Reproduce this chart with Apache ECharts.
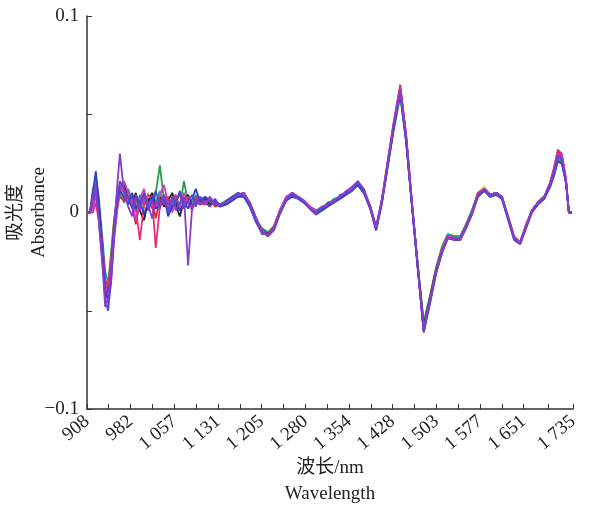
<!DOCTYPE html>
<html>
<head>
<meta charset="utf-8">
<script src="https://cdn.jsdelivr.net/npm/echarts@6/dist/echarts.min.js"></script>
<style>
  html, body { margin: 0; padding: 0; background: #fff; }
  #chart-content { width: 598px; height: 510px; }
</style>
</head>
<body>
<div id="chart-content"></div>
<script>
// wavelength grid (nm)
var wavelengths = [908, 913, 918, 923, 928, 934, 939, 944, 949, 954, 959, 964,
  971, 978, 985, 991, 998, 1005, 1012, 1019, 1025, 1032, 1039, 1046, 1053, 1059, 1066, 1073, 1080, 1087, 1093, 1100,
  1109, 1117, 1126,
  1134, 1145, 1155, 1165, 1175, 1185, 1196, 1206, 1216, 1226, 1236, 1247, 1257, 1267, 1277, 1287, 1298, 1308, 1318, 1328,
  1339, 1349, 1359, 1369, 1379, 1390, 1400, 1410, 1420, 1430, 1441, 1451, 1461, 1471, 1481, 1492, 1502, 1512, 1522, 1533,
  1543, 1553, 1563, 1573, 1584, 1594, 1604, 1614, 1624, 1635, 1645, 1655, 1665, 1675, 1686, 1696,
  1703, 1709, 1716, 1723, 1728, 1733];

var xTicks = [908, 982, 1057, 1131, 1205, 1280, 1354, 1428, 1503, 1577, 1651, 1735];

// absorbance spectra
var spec1 = [0, 0, .010, .021, .006, -.019, -.040, -.045, -.030, -.007, .006, .011,
  .008, .004, .010, .002, .006, -.001, .005, .008, .002, .004, .009, -.002, .003, .006, .001, .005, .002, .007, .012, .006,
  .008, .006, .005,
  .003, .004, .006, .008, .008, .003, -.005, -.010, -.012, -.009, -.001, .006, .008, .007, .005, .002, -.001, .001, .003, .005,
  .007, .009, .011, .014, .010, .002, -.009, .005, .024, .043, .061, .036, .003, -.029, -.060, -.045, -.031, -.020, -.013, -.014,
  -.014, -.008, -.001, .008, .011, .008, .009, .007, -.003, -.014, -.016, -.008, .000, .004, .007, .013,
  .019, .026, .025, .015, 0, 0];
var spec2 = [0, 0, .004, .008, .002, -.015, -.034, -.040, -.028, -.010, .004, .008,
  .006, .010, .003, -.006, .005, .009, .002, .006, -.003, .007, .004, .008, .001, .005, .010, .003, .006, .002, .008, .005,
  .004, .007, .003,
  .004, .005, .008, .009, .010, .005, -.003, -.010, -.011, -.007, .001, .008, .009, .008, .006, .003, .000, .002, .004, .006,
  .008, .010, .012, .015, .011, .003, -.009, .007, .027, .046, .065, .040, .005, -.028, -.061, -.045, -.030, -.019, -.012, -.013,
  -.013, -.007, .000, .009, .012, .009, .010, .008, -.002, -.013, -.015, -.007, .001, .005, .008, .015,
  .023, .031, .029, .017, 0, 0];
var spec3 = [0, 0, .012, .016, .000, -.022, -.043, -.038, -.020, -.004, .008, .010,
  .005, .012, .006, .001, .009, .004, .007, .002, .010, .024, .006, .001, .004, .008, .003, .016, .005, .003, .006, .004,
  .006, .005, .004,
  .004, .006, .008, .009, .009, .004, -.004, -.008, -.010, -.008, .000, .007, .009, .008, .006, .003, .001, .002, .005, .006,
  .008, .010, .012, .014, .010, .003, -.007, .006, .024, .042, .059, .036, .004, -.027, -.056, -.042, -.028, -.018, -.011, -.012,
  -.012, -.006, .001, .009, .012, .009, .010, .008, -.002, -.013, -.016, -.008, .001, .005, .008, .014,
  .020, .027, .026, .016, 0, 0];
var spec4 = [0, 0, .000, .005, -.004, -.024, -.038, -.036, -.024, -.006, .009, .014,
  .010, .004, .008, .002, -.014, .004, .009, .006, -.018, .003, .007, .002, .006, .009, .001, .004, .008, .002, .005, .007,
  .005, .003, .006,
  .003, .005, .007, .009, .009, .004, -.004, -.009, -.012, -.008, .000, .007, .010, .008, .006, .003, .000, .002, .004, .006,
  .008, .010, .013, .015, .011, .002, -.008, .006, .026, .045, .063, .038, .004, -.029, -.060, -.044, -.030, -.019, -.012, -.014,
  -.013, -.007, .000, .010, .012, .009, .010, .008, -.002, -.013, -.015, -.006, .001, .005, .008, .015,
  .023, .032, .030, .017, 0, 0];
var spec5 = [0, 0, .006, .011, .004, -.016, -.035, -.041, -.033, -.012, .002, .012,
  .014, .009, .004, .010, .001, -.004, .006, .010, .004, .008, .003, .006, .010, .004, -.002, .006, .009, .003, .006, .005,
  .007, .004, .006,
  .004, .005, .007, .009, .009, .004, -.004, -.009, -.011, -.008, .000, .007, .009, .008, .006, .003, .000, .002, .004, .006,
  .008, .010, .012, .015, .011, .003, -.008, .006, .025, .044, .064, .038, .004, -.028, -.058, -.043, -.029, -.019, -.012, -.013,
  -.013, -.007, .000, .009, .012, .009, .010, .008, -.002, -.013, -.015, -.007, .001, .005, .008, .014,
  .022, .030, .028, .016, 0, 0];
var spec6 = [0, 0, .009, .018, .008, -.012, -.030, -.036, -.026, -.008, .005, .009,
  .007, .011, .005, .009, .003, .007, .002, .008, .005, .011, .004, .008, .003, .006, .009, .002, .007, .004, .009, .006,
  .005, .008, .004,
  .004, .006, .007, .010, .009, .005, -.003, -.009, -.010, -.007, .001, .007, .009, .008, .006, .003, .001, .003, .004, .007,
  .008, .010, .012, .014, .011, .003, -.007, .006, .024, .043, .061, .037, .004, -.027, -.057, -.043, -.029, -.018, -.011, -.013,
  -.012, -.006, .001, .009, .012, .009, .010, .008, -.001, -.012, -.015, -.007, .001, .005, .008, .014,
  .020, .026, .025, .015, 0, 0];
var spec7 = [0, 0, .003, .007, -.002, -.020, -.032, -.034, -.022, -.004, .007, .009,
  .012, .006, .009, .004, .008, .002, .010, .005, .007, .003, .009, .005, .002, .007, .004, .008, .003, .006, .004, .007,
  .006, .004, .005,
  .004, .005, .007, .009, .009, .004, -.004, -.009, -.011, -.008, .000, .007, .009, .008, .006, .003, .000, .002, .004, .006,
  .008, .010, .012, .014, .010, .002, -.008, .006, .025, .044, .060, .037, .004, -.027, -.056, -.042, -.028, -.017, -.011, -.012,
  -.012, -.006, .001, .010, .013, .009, .010, .008, -.002, -.013, -.015, -.007, .001, .005, .008, .014,
  .021, .028, .027, .016, 0, 0];
var spec8 = [0, 0, .008, .014, -.004, -.026, -.048, -.044, -.030, -.010, .012, .030,
  .010, .003, -.002, .007, .001, .008, .004, -.003, .006, .002, .009, .004, .007, .001, .005, .008, -.027, .003, .007, .004,
  .005, .007, .004,
  .004, .005, .007, .009, .010, .005, -.003, -.010, -.012, -.008, .000, .007, .010, .008, .006, .002, .000, .003, .004, .006,
  .008, .011, .013, .016, .012, .003, -.008, .007, .026, .045, .062, .039, .005, -.028, -.059, -.044, -.030, -.020, -.013, -.013,
  -.014, -.007, .000, .009, .012, .009, .010, .008, -.002, -.013, -.016, -.007, .001, .005, .008, .015,
  .022, .029, .028, .016, 0, 0];
var spec9 = [0, 0, .006, .012, -.002, -.022, -.044, -.050, -.034, -.012, .004, .016,
  .012, .007, .002, .009, .004, .010, .001, .006, .011, .004, .007, .000, .008, .005, .011, .002, .006, .009, .003, .008,
  .006, .003, .007,
  .003, .006, .008, .010, .008, .003, -.005, -.011, -.011, -.009, .000, .006, .009, .007, .005, .002, -.001, .002, .005, .005,
  .009, .010, .011, .015, .011, .002, -.009, .005, .025, .044, .062, .037, .003, -.029, -.061, -.046, -.031, -.021, -.013, -.014,
  -.014, -.008, -.001, .008, .011, .008, .009, .007, -.003, -.014, -.016, -.008, .000, .004, .007, .013,
  .020, .028, .027, .016, 0, 0];
var spec10 = [0, 0, .002, .010, .003, -.017, -.036, -.046, -.036, -.014, .000, .010,
  .016, .010, .005, -.004, .007, .012, .003, .008, .002, .009, .014, .005, .000, .007, .003, .010, .005, .001, .007, .005,
  .004, .008, .005,
  .004, .005, .007, .009, .010, .004, -.004, -.009, -.012, -.008, .001, .008, .010, .008, .006, .003, .001, .002, .004, .006,
  .008, .010, .012, .015, .012, .003, -.008, .007, .026, .046, .064, .039, .005, -.028, -.060, -.045, -.030, -.019, -.012, -.013,
  -.013, -.007, .000, .009, .012, .009, .010, .008, -.002, -.013, -.015, -.007, .001, .005, .008, .015,
  .022, .030, .029, .017, 0, 0];

// 画的先后顺序（后画的在上面）
var specList = [spec7, spec3, spec6, spec5, spec2, spec4, spec10, spec1, spec9, spec8];
var specColors = ['#d8c21f', '#2a9d4a', '#1fa8a8', '#222222', '#d42a2a', '#e0307a', '#c83cc8', '#2b3fcf', '#4a4ad6', '#8a3cc4'];

var fontFam = '"Liberation Serif", "Noto Sans CJK SC", serif';

//把数组拼成点
function toPoints(arr) {
  var pts = [];
  for (var i = 0; i < arr.length; i++) {
    pts.push([wavelengths[i], arr[i]]);
  }
  return pts;
}

//刻度：标签处和中间各一个
var tickVals = [];
for (var i = 0; i < xTicks.length; i++) {
  tickVals.push(xTicks[i]);
  if (i < xTicks.length - 1) tickVals.push((xTicks[i] + xTicks[i + 1]) / 2);
}

function loadChart() {
  var mychat = echarts.init(document.getElementById('chart-content'), null, { renderer: 'canvas' });
  var series = [];
  for (var i = 0; i < specList.length; i++) {
    series.push({
      name: 's' + (i + 1),
      type: 'line',
      showSymbol: false,
      data: toPoints(specList[i]),
      lineStyle: { width: 1.8, color: specColors[i] },
      itemStyle: { color: specColors[i] }
    });
  }
  var option = {
    animation: false,
    grid: { left: 87, right: 25, top: 16, bottom: 101, containLabel: false, outerBoundsMode: 'none' },
    xAxis: {
      type: 'value',
      min: 908,
      max: 1735,
      name: '波长/nm\nWavelength',
      nameLocation: 'middle',
      nameGap: 46,
      nameMoveOverlap: false,
      nameTextStyle: { fontFamily: fontFam, fontSize: 19, color: '#222', lineHeight: 26, verticalAlign: 'top' },
      splitLine: { show: false },
      axisLine: { onZero: false, lineStyle: { color: '#333', width: 1.5 } },
      axisTick: { inside: true, length: 5, customValues: tickVals, lineStyle: { color: '#333' } },
      axisLabel: {
        customValues: xTicks,
        rotate: 40,
        margin: 10,
        fontFamily: fontFam,
        fontSize: 19,
        color: '#222',
        formatter: function (v) {
          var s = String(Math.round(v));
          return s.length > 3 ? s.charAt(0) + ' ' + s.slice(1) : s;
        }
      }
    },
    yAxis: {
      type: 'value',
      min: -0.1,
      max: 0.1,
      interval: 0.05,
      name: '吸光度\nAbsorbance',
      nameLocation: 'middle',
      nameRotate: 90,
      nameGap: 59,
      nameMoveOverlap: false,
      nameTextStyle: { fontFamily: fontFam, fontSize: 19, color: '#222', lineHeight: 23, verticalAlign: 'middle' },
      splitLine: { show: false },
      axisLine: { show: true, onZero: false, lineStyle: { color: '#333', width: 1.5 } },
      axisTick: { inside: true, length: 5, lineStyle: { color: '#333' } },
      axisLabel: {
        fontFamily: fontFam,
        fontSize: 19,
        color: '#222',
        margin: 8,
        formatter: function (v) {
          if (Math.abs(v) < 1e-9) return '0';
          if (Math.abs(Math.abs(v) - 0.1) < 1e-9) return v < 0 ? '\u22120.1' : '0.1';
          return '';
        }
      }
    },
    series: series
  };
  mychat.setOption(option);
}

loadChart();
</script>
</body>
</html>
